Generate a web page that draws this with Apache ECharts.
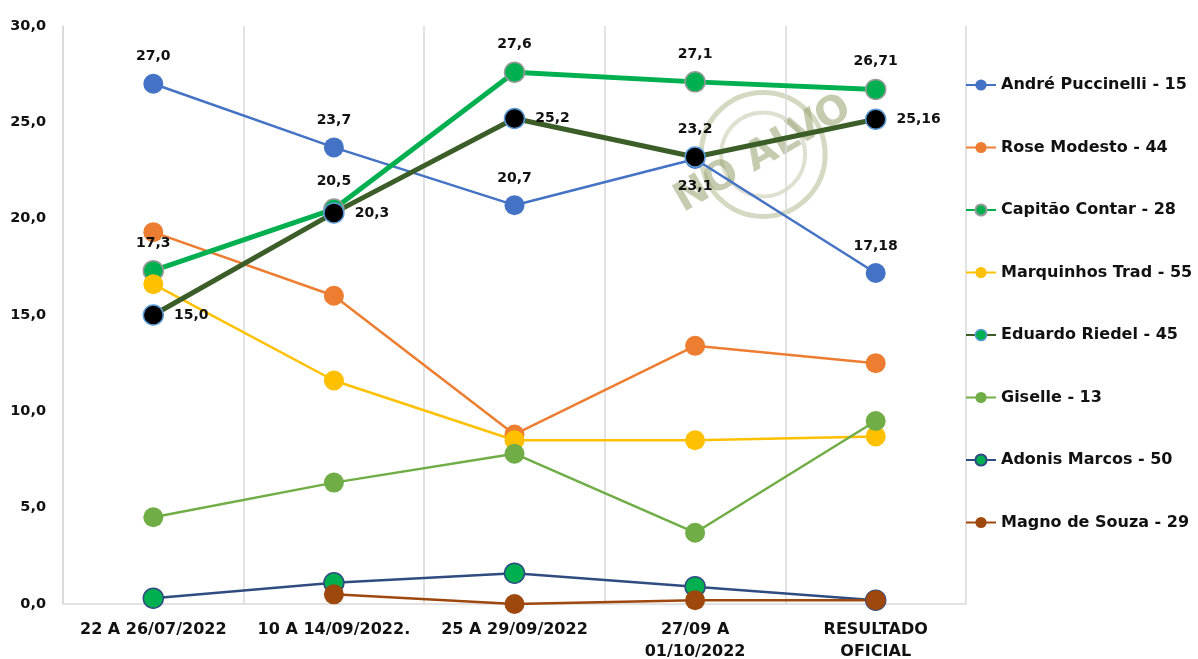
<!DOCTYPE html>
<html><head><meta charset="utf-8">
<script src="https://cdn.jsdelivr.net/npm/echarts@6/dist/echarts.min.js"></script>
<style>html,body{margin:0;padding:0;background:#fff}#c{width:1198px;height:659px}</style>
</head><body><div id="c"></div>
<script>
const categories = ['22 A 26/07/2022', '10 A 14/09/2022.', '25 A 29/09/2022', '27/09 A\n01/10/2022', 'RESULTADO\nOFICIAL'];
const yTicks = [0, 5, 10, 15, 20, 25, 30];
const seriesNames = ['André Puccinelli - 15', 'Rose Modesto - 44', 'Capitão Contar - 28', 'Marquinhos Trad - 55', 'Eduardo Riedel - 45', 'Giselle - 13', 'Adonis Marcos - 50', 'Magno de Souza - 29'];
const andre = [27.0, 23.7, 20.7, 23.1, 17.18];
const rose = [19.3, 16.0, 8.8, 13.4, 12.5];
const contar = [17.3, 20.5, 27.6, 27.1, 26.71];
const marquinhos = [16.6, 11.6, 8.5, 8.5, 8.7];
const riedel = [15.0, 20.3, 25.2, 23.2, 25.16];
const giselle = [4.5, 6.3, 7.8, 3.7, 9.5];
const adonis = [0.3, 1.1, 1.6, 0.9, 0.2];
const magno = [null, 0.5, 0.0, 0.2, 0.2];

const fmt = v => {
  const s = (Math.round(v * 10) === v * 10) ? v.toFixed(1) : String(v);
  return s.replace('.', ',');
};
const FONT = 'DejaVu Sans';
const labelFont = { fontFamily: FONT, fontWeight: 'bold', fontSize: 14, color: '#111' };

function mk(name, data, color, width, mColor, mBorder, opts) {
  opts = opts || {};
  return {
    name, type: 'line', data, symbol: 'circle', symbolSize: 20,
    lineStyle: { color, width },
    itemStyle: { color: mColor, borderColor: mBorder, borderWidth: mBorder ? 1.5 : 0 },
    label: opts.labelPos ? Object.assign({ show: true, position: 'top', distance: 10, formatter: p => fmt(p.value) }, labelFont) : { show: false },
    emphasis: { disabled: true },
    z: 3,
    connectNulls: false
  };
}

function withPositions(series, positions) {
  series.data = series.data.map((v, i) => ({ value: v, label: { position: positions[i] } }));
  return series;
}

const sAndre = withPositions(mk(seriesNames[0], andre, '#4472C4', 2.5, '#4472C4', null, { labelPos: true }), ['top', 'top', 'top', 'bottom', 'top']);
const sContar = withPositions(mk(seriesNames[2], contar, '#00B050', 5, '#00B050', '#9a9a9a', { labelPos: true }), ['top', 'top', 'top', 'top', 'top']);
const sRiedel = withPositions(mk(seriesNames[4], riedel, '#3B5E28', 5, '#000000', '#5B9BD5', { labelPos: true }), ['right', 'right', 'right', 'top', 'right']);

const option = {
  animation: false,
  backgroundColor: '#fff',
  grid: { left: 63, right: 232, top: 26, bottom: 55, containLabel: false, outerBoundsMode: 'none' },
  graphic: [{
    type: 'group', left: 668, top: 88, z: 0,
    children: [
      { type: 'circle', shape: { cx: 100, cy: 70, r: 62 }, style: { fill: 'none', stroke: 'rgba(160,170,120,0.45)', lineWidth: 5 } },
      { type: 'circle', shape: { cx: 100, cy: 70, r: 42 }, style: { fill: 'none', stroke: 'rgba(160,170,120,0.35)', lineWidth: 4 } },
      { type: 'text', x: 100, y: 70, rotation: Math.PI / 6, style: { text: 'NO ALVO', fill: 'rgba(150,160,110,0.55)', font: 'bold 40px "DejaVu Sans"', align: 'center', verticalAlign: 'middle' } }
    ]
  }],
  legend: {
    orient: 'vertical', left: 960, top: 70, itemGap: 42.5, itemWidth: 30, itemHeight: 14,
    textStyle: { fontFamily: FONT, fontWeight: 'bold', fontSize: 16, color: '#111', lineHeight: 20 },
    data: seriesNames.map((n, i) => i === 4 ? { name: n, itemStyle: { color: '#00B050', borderColor: '#5B9BD5', borderWidth: 1.5 } } : n),
    selectedMode: false
  },
  xAxis: {
    type: 'category', data: categories, boundaryGap: true,
    axisLine: { show: true, lineStyle: { color: '#d9d9d9', width: 1.5 } },
    axisTick: { show: false },
    splitLine: { show: true, lineStyle: { color: '#d9d9d9', width: 1.5 } },
    axisLabel: { interval: 0, margin: 15, fontFamily: FONT, fontWeight: 'bold', fontSize: 16, color: '#111', lineHeight: 22 }
  },
  yAxis: {
    type: 'value', min: 0, max: 30, interval: 5,
    axisLine: { show: true, lineStyle: { color: '#d9d9d9', width: 1.5 } },
    axisTick: { show: false },
    splitLine: { show: false },
    axisLabel: { margin: 17, fontFamily: FONT, fontWeight: 'bold', fontSize: 14.5, color: '#111', formatter: v => yTicks.includes(v) ? v.toFixed(1).replace('.', ',') : '' }
  },
  series: [
    sAndre,
    mk(seriesNames[1], rose, '#ED7D31', 2.5, '#ED7D31', null),
    sContar,
    mk(seriesNames[3], marquinhos, '#FFC000', 2.5, '#FFC000', null),
    sRiedel,
    mk(seriesNames[5], giselle, '#70AD47', 2.5, '#70AD47', null),
    mk(seriesNames[6], adonis, '#2F4C80', 2.5, '#00B050', '#2F4C80'),
    mk(seriesNames[7], magno, '#9E480E', 2.5, '#9E480E', null)
  ]
};
echarts.init(document.getElementById('c')).setOption(option);
</script></body></html>
